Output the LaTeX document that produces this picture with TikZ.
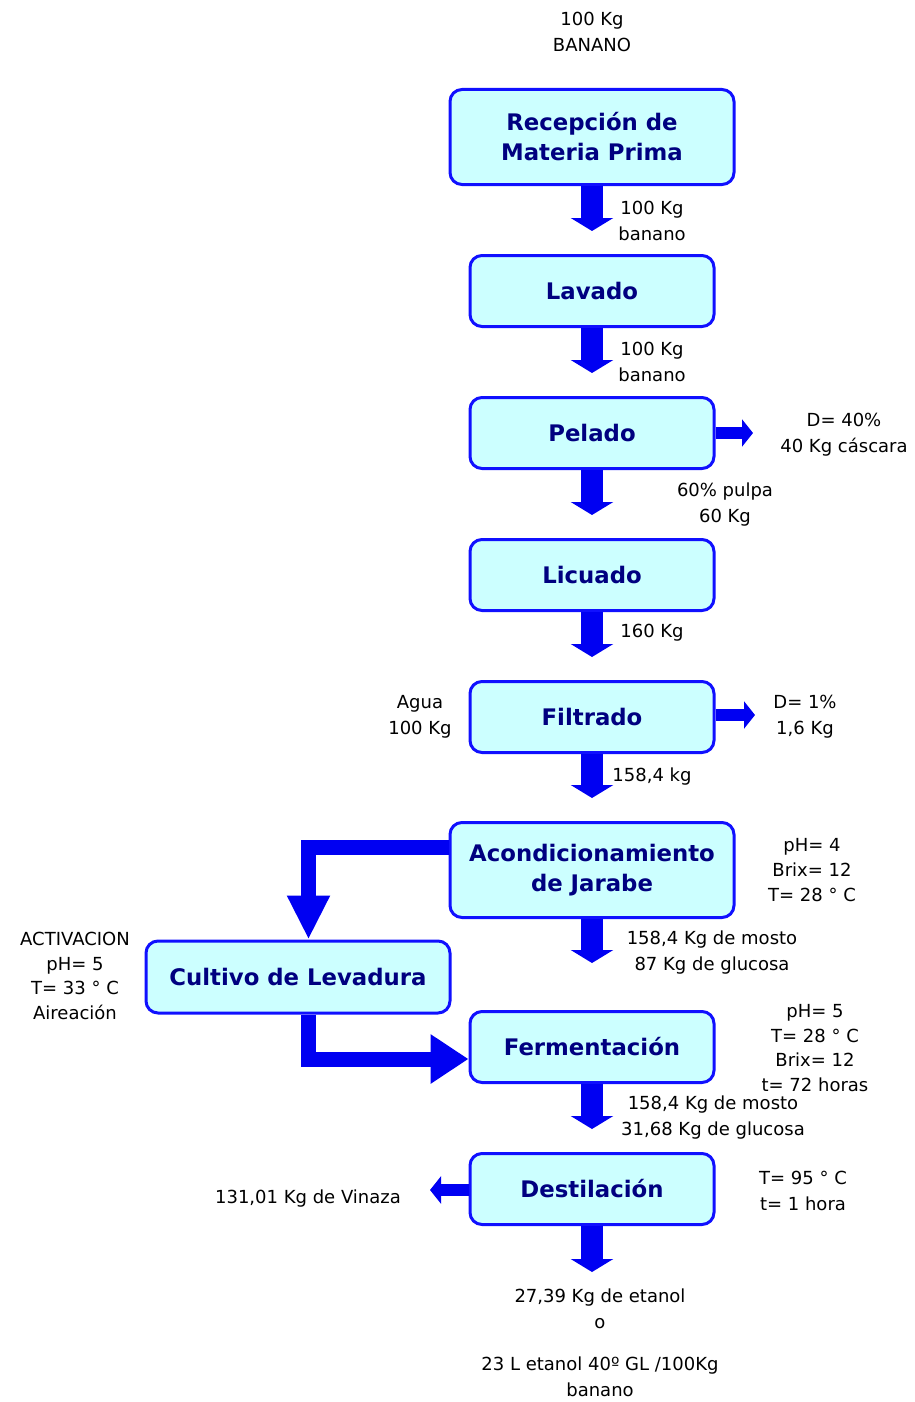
\documentclass[tikz,border=0pt]{standalone}
\usepackage{fontspec}
\setmainfont{DejaVu Sans}
\usepackage{tikz}
\usetikzlibrary{arrows.meta,positioning}

\definecolor{boxfill}{HTML}{CCFFFF}
\definecolor{boxline}{HTML}{1010FF}
\definecolor{boxtext}{HTML}{000080}
\definecolor{flowblue}{HTML}{0000F2}

\begin{document}
\begin{tikzpicture}[x=0.5pt, y=-0.5pt]
    % Styles
    \tikzstyle{proc} = [rectangle, rounded corners=6pt, draw=boxline, line width=1.5pt, fill=boxfill, text=boxtext, font=\fontsize{11.4}{15}\selectfont\bfseries, align=center, minimum width=122pt, minimum height=35.5pt, inner sep=2pt]
    \tikzstyle{bigproc} = [proc, minimum width=142pt, minimum height=47.5pt]
    \tikzstyle{note} = [font=\fontsize{9}{13}\selectfont, align=center, inner sep=0pt]
    \tikzstyle{flow} = [line width=11pt, draw=flowblue, -{Triangle[width=21pt,length=6.5pt]}, shorten >=11.5pt]
    \tikzstyle{side} = [line width=6pt, draw=flowblue, -{Triangle[width=13.5pt,length=5.5pt]}]
    \tikzstyle{loop} = [line width=7.5pt, draw=flowblue]

    \useasboundingbox (0,0) rectangle (915,1402);

    % Process boxes
    \node[bigproc] (rec) at (592,137) {Recepción de\\Materia Prima};
    \node[proc] (lav) at (592,291) {Lavado};
    \node[proc] (pel) at (592,433) {Pelado};
    \node[proc] (lic) at (592,575) {Licuado};
    \node[proc] (fil) at (592,717) {Filtrado};
    \node[bigproc] (acond) at (592,870) {Acondicionamiento\\de Jarabe};
    \node[proc, minimum width=152pt, minimum height=36pt] (cult) at (298,977) {Cultivo de Levadura};
    \node[proc] (ferm) at (592,1047) {Fermentación};
    \node[proc] (dest) at (592,1189) {Destilación};

    % Free ends
    \coordinate (peltip) at (753,433);
    \coordinate (filtip) at (755,715);
    \coordinate (vintip) at (430,1190);
    \coordinate (etoh) at (592,1272);

    % Labels
    \node[note] (raw) at (592,32) {100 Kg\\BANANO};
    \node[note] (q1) at (652,221) {100 Kg\\banano};
    \node[note] (q2) at (652,362) {100 Kg\\banano};
    \node[note] (cascara) at (844,435) {D= 40\%\\40 Kg cáscara};
    \node[note] (pulpa) at (725,505) {60\% pulpa\\60 Kg};
    \node[note] (q3) at (652,633) {160 Kg};
    \node[note] (agua) at (420,717) {Agua\\100 Kg};
    \node[note] (resid) at (805,717) {D= 1\%\\1,6 Kg};
    \node[note] (q4) at (652,777) {158,4 kg};
    \node[note, font=\fontsize{9}{12.4}\selectfont] (condA) at (812,870) {pH= 4\\Brix= 12\\T= 28 ° C};
    \node[note] (mosto1) at (712,953) {158,4 Kg de mosto\\87 Kg de glucosa};
    \node[note, font=\fontsize{9}{12.4}\selectfont] (activ) at (75,976) {ACTIVACION\\pH= 5\\T= 33 ° C\\Aireación};
    \node[note, font=\fontsize{9}{12.4}\selectfont] (condF) at (815,1048) {pH= 5\\T= 28 ° C\\Brix= 12\\t= 72 horas};
    \node[note] (mosto2) at (713,1118) {158,4 Kg de mosto\\31,68 Kg de glucosa};
    \node[note] (vinaza) at (308,1199) {131,01 Kg de Vinaza};
    \node[note] (condD) at (803,1191) {T= 95 ° C\\t= 1 hora};
    \node[note] (etanol) at (600,1343) {27,39 Kg de etanol\\o\\[8pt]23 L etanol 40º GL /100Kg\\banano};

    % Main flow
    \draw[flow] (rec) -- (lav);
    \draw[flow] (lav) -- (pel);
    \draw[flow] (pel) -- (lic);
    \draw[flow] (lic) -- (fil);
    \draw[flow] (fil) -- (acond);
    \draw[flow, shorten >=23.5pt] (acond) -- (ferm);
    \draw[flow] (ferm) -- (dest);
    \draw[flow, shorten >=0pt] (dest) -- (etoh);

    % Side streams
    \draw[side] (pel.east) -- (peltip);
    \draw[side] (fil.east |- filtip) -- (filtip);
    \draw[side] (dest.west |- vintip) -- (vintip);

    % Yeast loop
    \draw[loop, -{Triangle[width=20pt,length=22pt]}] ([yshift=11.5pt]acond.west) -| ([xshift=5.25pt]cult.north);
    \draw[loop, -{Triangle[width=23.5pt,length=19pt]}] ([xshift=5.25pt]cult.south) |- ([yshift=-6pt]ferm.west);

\end{tikzpicture}
\end{document}
